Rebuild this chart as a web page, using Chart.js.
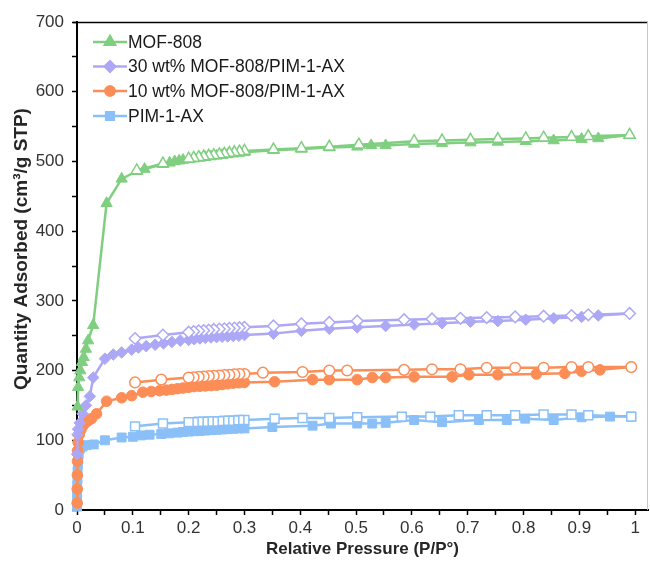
<!DOCTYPE html>
<html>
<head>
<meta charset="utf-8">
<script src="https://cdn.jsdelivr.net/npm/chart.js@4.4.1/dist/chart.umd.min.js"></script>
<style>
  html, body { margin: 0; padding: 0; background: #ffffff; }
  #c { display: block; }
</style>
</head>
<body>
<canvas id="c" width="650" height="563"></canvas>
<script>
// ---------------- DATA ----------------
const seriesNames = ['MOF-808', '30 wt% MOF-808/PIM-1-AX', '10 wt% MOF-808/PIM-1-AX', 'PIM-1-AX'];
const xTitle = 'Relative Pressure (P/P°)';
const yTitle = 'Quantity Adsorbed (cm³/g STP)';

// MOF-808
const mofAdsX = [0.001, 0.002, 0.004, 0.006, 0.009, 0.012, 0.016, 0.02, 0.029, 0.053, 0.08, 0.107, 0.121, 0.154, 0.166, 0.175, 0.183, 0.19, 0.2, 0.21, 0.22, 0.23, 0.24, 0.25, 0.26, 0.27, 0.28, 0.29, 0.3, 0.352, 0.402, 0.452, 0.502, 0.527, 0.553, 0.604, 0.654, 0.705, 0.754, 0.804, 0.854, 0.904, 0.934, 0.99];
const mofAdsY = [148, 176, 190, 200, 212, 219, 231, 243, 265, 440, 475, 486, 489, 496, 498, 500, 501, 502, 503, 504, 505, 506, 507, 508, 509, 510, 511, 512, 513, 516, 518, 520, 521, 523, 523, 525, 526, 527, 528, 529, 530, 532, 533, 538];
const mofDesX = [0.99, 0.916, 0.886, 0.836, 0.804, 0.754, 0.705, 0.654, 0.604, 0.505, 0.452, 0.402, 0.352, 0.3, 0.291, 0.282, 0.273, 0.264, 0.255, 0.245, 0.236, 0.227, 0.218, 0.209, 0.2, 0.154, 0.107];
const mofDesY = [538, 536, 535, 534, 533, 532, 531, 530, 529, 524, 521, 519, 517, 515, 514, 513, 512, 511, 510, 509, 508, 507, 506, 505, 504, 497, 487];

// 30 wt% MOF-808/PIM-1-AX
const m30AdsX = [0.0002, 0.001, 0.002, 0.005, 0.01, 0.016, 0.023, 0.029, 0.05, 0.065, 0.08, 0.098, 0.11, 0.124, 0.14, 0.155, 0.17, 0.185, 0.2, 0.21, 0.22, 0.23, 0.24, 0.25, 0.26, 0.27, 0.28, 0.29, 0.3, 0.352, 0.402, 0.452, 0.502, 0.553, 0.604, 0.654, 0.705, 0.754, 0.804, 0.854, 0.904, 0.934, 0.99];
const m30AdsY = [80, 108, 116, 125, 138, 150, 163, 190, 217, 223, 226, 230, 233, 235, 237, 239, 241, 243, 244, 245, 246, 247, 247.5, 248, 248.5, 249, 249.5, 250, 251, 253, 257, 260, 262, 264, 266, 268, 270, 271, 273, 275, 277, 279, 282];
const m30DesX = [0.99, 0.916, 0.886, 0.836, 0.785, 0.734, 0.687, 0.636, 0.586, 0.502, 0.452, 0.402, 0.352, 0.3, 0.291, 0.282, 0.273, 0.264, 0.255, 0.245, 0.236, 0.227, 0.218, 0.209, 0.2, 0.154, 0.104];
const m30DesY = [282, 280, 279, 278, 277, 276, 275, 274, 273, 271, 269, 267, 264, 262, 261.5, 261, 260.5, 260, 259.5, 259, 258, 257.5, 257, 256, 255, 251, 246];

// 10 wt% MOF-808/PIM-1-AX
const m10AdsX = [0.0002, 0.0004, 0.0006, 0.0008, 0.001, 0.002, 0.004, 0.007, 0.01, 0.015, 0.02, 0.026, 0.035, 0.053, 0.08, 0.098, 0.118, 0.133, 0.148, 0.16, 0.17, 0.18, 0.19, 0.2, 0.21, 0.22, 0.23, 0.24, 0.25, 0.26, 0.27, 0.28, 0.29, 0.3, 0.354, 0.422, 0.452, 0.502, 0.529, 0.553, 0.604, 0.672, 0.702, 0.754, 0.823, 0.874, 0.904, 0.937, 0.993];
const m10AdsY = [10, 30, 50, 70, 85, 97, 108, 115, 120, 125, 128, 131, 138, 156, 161, 164, 169, 170, 171, 172, 173, 174, 175, 176, 177, 177.5, 178, 178.5, 179, 180, 181, 182, 182.5, 183, 184, 187, 187, 187, 190, 190, 191, 191, 194, 194, 195, 196, 199, 201, 205];
const m10DesX = [0.993, 0.916, 0.886, 0.836, 0.785, 0.734, 0.687, 0.636, 0.586, 0.484, 0.452, 0.404, 0.333, 0.3, 0.291, 0.282, 0.273, 0.264, 0.255, 0.245, 0.236, 0.227, 0.218, 0.209, 0.2, 0.151, 0.104];
const m10DesY = [205, 205, 205, 204, 204, 204, 202, 202, 201, 200, 200, 198, 197, 195, 195, 194.5, 194, 193.5, 193, 192.5, 192, 191.5, 191, 190.5, 190, 187, 183];

// PIM-1-AX
const pimAdsX = [0.0001, 0.0002, 0.0003, 0.0005, 0.0008, 0.001, 0.0015, 0.002, 0.003, 0.005, 0.01, 0.017, 0.03, 0.05, 0.08, 0.1, 0.115, 0.13, 0.151, 0.165, 0.18, 0.19, 0.2, 0.21, 0.22, 0.23, 0.24, 0.25, 0.26, 0.27, 0.28, 0.29, 0.3, 0.35, 0.422, 0.455, 0.502, 0.529, 0.553, 0.604, 0.654, 0.72, 0.77, 0.803, 0.854, 0.904, 0.955, 0.993];
const pimAdsY = [5, 15, 25, 35, 45, 55, 65, 72, 80, 88, 91, 93, 94, 100, 104, 105, 107, 108, 109, 110, 111, 112, 112.5, 113, 113.5, 114, 114.5, 115, 115.5, 116, 116.5, 117, 117, 119, 121, 124, 124, 124, 125, 129, 126, 129, 129, 131, 129, 133, 134, 134];
const pimDesX = [0.993, 0.916, 0.886, 0.836, 0.785, 0.734, 0.684, 0.633, 0.582, 0.502, 0.452, 0.404, 0.354, 0.3, 0.291, 0.282, 0.273, 0.264, 0.255, 0.245, 0.236, 0.227, 0.218, 0.209, 0.2, 0.154, 0.104];
const pimDesY = [134, 136, 137, 137, 136, 136, 136, 134, 134, 133, 132, 132, 131, 129, 129, 128.5, 128, 128, 127.5, 127, 127, 126.5, 126.5, 126, 126, 124, 120];

// Axis ticks
const xTickValues = [0, 0.05, 0.1, 0.15, 0.2, 0.25, 0.3, 0.35, 0.4, 0.45, 0.5, 0.55, 0.6, 0.65, 0.7, 0.75, 0.8, 0.85, 0.9, 0.95, 1];
const xTickLabels = ['0', '', '0.1', '', '0.2', '', '0.3', '', '0.4', '', '0.5', '', '0.6', '', '0.7', '', '0.8', '', '0.9', '', '1'];
const yTickValues = [0, 50, 100, 150, 200, 250, 300, 350, 400, 450, 500, 550, 600, 650, 700];
const yTickLabels = ['0', '', '100', '', '200', '', '300', '', '400', '', '500', '', '600', '', '700'];

// ---------------- STYLE ----------------
const colors = ['#80CF80', '#ACA8F6', '#FC8D57', '#8AC0F7'];
const pStyles = ['triangle', 'rectRot', 'circle', 'rect'];
const pRadius = [6.5, 5.8, 5.3, 6.3];
const FONT = "'Liberation Sans', Arial, Helvetica, sans-serif";

function pts(xs, ys) { return xs.map((x, i) => ({ x: x, y: ys[i] })); }

const adsSets = [[mofAdsX, mofAdsY], [m30AdsX, m30AdsY], [m10AdsX, m10AdsY], [pimAdsX, pimAdsY]];
const desSets = [[mofDesX, mofDesY], [m30DesX, m30DesY], [m10DesX, m10DesY], [pimDesX, pimDesY]];

const datasets = [];
for (let i = 0; i < 4; i++) {
  datasets.push({
    label: seriesNames[i] + ' adsorption',
    data: pts(adsSets[i][0], adsSets[i][1]),
    showLine: true,
    borderColor: colors[i],
    backgroundColor: colors[i],
    borderWidth: 2.5,
    pointStyle: pStyles[i],
    pointRadius: pRadius[i],
    pointBackgroundColor: colors[i],
    pointBorderColor: colors[i],
    pointBorderWidth: 1,
    clip: false,
    order: 20 + i
  });
  datasets.push({
    label: seriesNames[i] + ' desorption',
    data: pts(desSets[i][0], desSets[i][1]),
    showLine: true,
    borderColor: colors[i],
    backgroundColor: '#ffffff',
    borderWidth: 2.5,
    pointStyle: pStyles[i],
    pointRadius: pRadius[i],
    pointBackgroundColor: '#ffffff',
    pointBorderColor: colors[i],
    pointBorderWidth: 1.5,
    clip: false,
    order: 10 + i
  });
}

// frame + legend + y-title plugin
const framePlugin = {
  id: 'frameLegend',
  afterDraw(chart) {
    const ctx = chart.ctx;
    const a = chart.chartArea;
    ctx.save();
    // top border
    ctx.strokeStyle = '#000';
    ctx.lineWidth = 1.5;
    ctx.beginPath();
    ctx.moveTo(a.left - 4, a.top + 0.5);
    ctx.lineTo(a.right, a.top + 0.5);
    ctx.stroke();
    // right border
    ctx.strokeStyle = '#c8c8c8';
    ctx.lineWidth = 1;
    ctx.beginPath();
    ctx.moveTo(a.right - 0.5, a.top);
    ctx.lineTo(a.right - 0.5, a.bottom);
    ctx.stroke();

    // y axis title
    ctx.save();
    ctx.translate(22, 249);
    ctx.rotate(-Math.PI / 2);
    ctx.font = 'bold 19px ' + FONT;
    ctx.fillStyle = '#262626';
    ctx.textAlign = 'center';
    ctx.textBaseline = 'middle';
    ctx.fillText(yTitle, 0, 0);
    ctx.restore();

    // legend
    const x0 = 93, x1 = 127, xm = 110;
    const ys = [42, 66.5, 91, 116];
    ctx.font = '17.5px ' + FONT;
    ctx.textBaseline = 'middle';
    ctx.textAlign = 'left';
    for (let i = 0; i < 4; i++) {
      const y = ys[i];
      ctx.strokeStyle = colors[i];
      ctx.lineWidth = 2.5;
      ctx.beginPath();
      ctx.moveTo(x0, y);
      ctx.lineTo(x1, y);
      ctx.stroke();
      Chart.helpers.drawPoint(ctx, {
        pointStyle: pStyles[i], radius: pRadius[i] * 0.85, rotation: 0, borderWidth: 1
      }, xm, y);
      ctx.fillStyle = colors[i];
      ctx.strokeStyle = colors[i];
      ctx.fill();
      ctx.stroke();
      ctx.fillStyle = '#1a1a1a';
      ctx.fillText(seriesNames[i], x1 + 1, y + 1);
    }
    ctx.restore();
  }
};

const chart = new Chart(document.getElementById('c'), {
  type: 'scatter',
  data: { datasets: datasets },
  plugins: [framePlugin],
  options: {
    responsive: false,
    animation: false,
    devicePixelRatio: 1,
    layout: { autoPadding: false, padding: { left: 0, right: 2, top: 22, bottom: 0 } },
    plugins: { legend: { display: false }, tooltip: { enabled: false } },
    elements: { line: { tension: 0 } },
    scales: {
      x: {
        type: 'linear',
        min: 0,
        max: 1.023,
        afterBuildTicks(scale) { scale.ticks = xTickValues.map(v => ({ value: v })); },
        afterFit(scale) { scale.height = 53; scale.paddingLeft = 0; scale.paddingRight = 0; },
        ticks: {
          autoSkip: false,
          maxRotation: 0,
          padding: 3,
          color: '#333333',
          font: { family: FONT, size: 17 },
          callback: (v, i) => xTickLabels[i]
        },
        grid: { display: true, drawOnChartArea: false, drawTicks: true, tickLength: 5, tickWidth: 1.5, tickColor: '#000' },
        border: { display: true, color: '#000', width: 2 },
        title: {
          display: true,
          text: xTitle,
          color: '#262626',
          font: { family: FONT, size: 17, weight: 'bold' },
          padding: { top: 0, bottom: 3 }
        }
      },
      y: {
        type: 'linear',
        min: 0,
        max: 700,
        afterBuildTicks(scale) { scale.ticks = yTickValues.map(v => ({ value: v })); },
        afterFit(scale) { scale.width = 77; scale.paddingTop = 0; scale.paddingBottom = 0; },
        ticks: {
          autoSkip: false,
          padding: 8,
          color: '#333333',
          font: { family: FONT, size: 17 },
          callback: (v, i) => yTickLabels[i]
        },
        grid: { display: true, drawOnChartArea: false, drawTicks: true, tickLength: 5, tickWidth: 1.5, tickColor: '#000' },
        border: { display: true, color: '#000', width: 2 },
        title: { display: false }
      }
    }
  }
});
</script>
</body>
</html>
